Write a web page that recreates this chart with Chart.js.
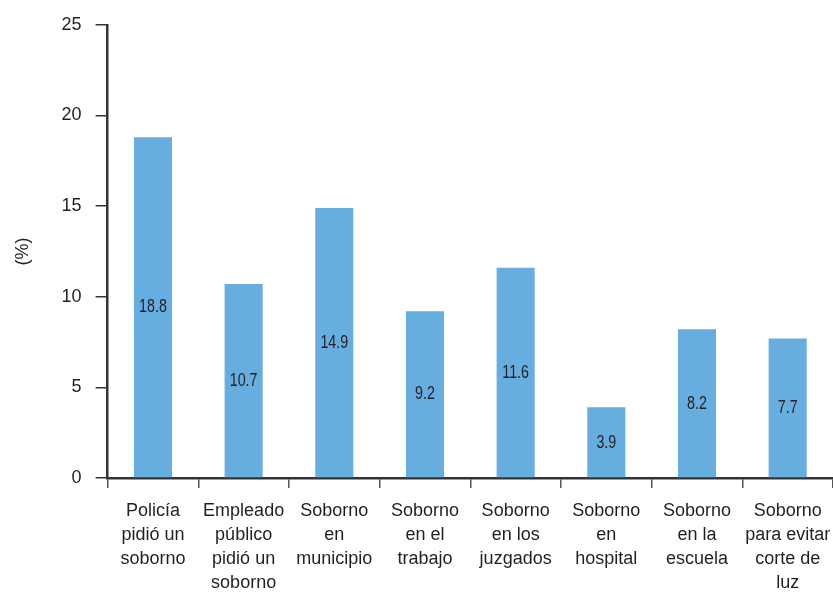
<!DOCTYPE html>
<html>
<head>
<meta charset="utf-8">
<script src="https://cdn.jsdelivr.net/npm/chart.js@4"></script>
<style>
  html, body { margin: 0; padding: 0; background: #fff; }
  #wrap { width: 833px; height: 595px; position: relative; }
</style>
</head>
<body>
<div id="wrap"><canvas id="bribeChart"></canvas></div>
<script>
'use strict';

// ---- Data ----
const categories = [
  ['Policía', 'pidió un', 'soborno'],
  ['Empleado', 'público', 'pidió un', 'soborno'],
  ['Soborno', 'en', 'municipio'],
  ['Soborno', 'en el', 'trabajo'],
  ['Soborno', 'en los', 'juzgados'],
  ['Soborno', 'en', 'hospital'],
  ['Soborno', 'en la', 'escuela'],
  ['Soborno', 'para evitar', 'corte de', 'luz'],
];
const values = [18.8, 10.7, 14.9, 9.2, 11.6, 3.9, 8.2, 7.7];
const yTicks = [0, 5, 10, 15, 20, 25];

const TEXT = '#231f20';
const BAR = '#67aee0';
const FONT = '"Liberation Sans", Arial, sans-serif';

// ---- value labels in the middle of each bar (narrow look) ----
const barLabels = {
  id: 'barLabels',
  afterDatasetsDraw(chart) {
    const { ctx } = chart;
    const meta = chart.getDatasetMeta(0);
    ctx.save();
    ctx.font = '19px ' + FONT;
    ctx.fillStyle = TEXT;
    ctx.textAlign = 'center';
    ctx.textBaseline = 'middle';
    meta.data.forEach((bar, i) => {
      const mid = (bar.y + bar.base) / 2;
      ctx.save();
      ctx.translate(bar.x, mid);
      ctx.scale(0.75, 1);
      ctx.fillText(values[i].toFixed(1), 0, 0);
      ctx.restore();
    });
    ctx.restore();
  },
};

new Chart(document.getElementById('bribeChart'), {
  type: 'bar',
  data: {
    labels: categories,
    datasets: [{
      data: values,
      backgroundColor: BAR,
      borderWidth: 0,
      categoryPercentage: 1,
      barPercentage: 0.42,
    }],
  },
  options: {
    responsive: true,
    maintainAspectRatio: false,
    animation: false,
    layout: { padding: { top: 14, right: 0, bottom: 0, left: 12 } },
    plugins: {
      legend: { display: false },
      tooltip: { enabled: false },
    },
    scales: {
      x: {
        offset: true,
        afterFit: axis => { axis.height = 117; axis.paddingRight = 0; },
        grid: { offset: true, drawOnChartArea: false, tickLength: 10, color: '#555', lineWidth: 1.5 },
        border: { color: '#333', width: 2.5 },
        ticks: {
          color: TEXT,
          padding: 11,
          maxRotation: 0,
          autoSkip: false,
          font: { size: 18, family: FONT, lineHeight: 1.33 },
        },
      },
      y: {
        min: 0,
        max: 25,
        afterBuildTicks: axis => { axis.ticks = yTicks.map(v => ({ value: v })); },
        grid: { drawOnChartArea: false, tickLength: 12, color: '#333', lineWidth: 1.5 },
        border: { color: '#333', width: 2.5 },
        ticks: {
          color: TEXT,
          padding: 14,
          font: { size: 18, family: FONT },
        },
        title: {
          display: true,
          text: '(%)',
          color: TEXT,
          padding: { top: 0, bottom: 14 },
          font: { size: 18, family: FONT },
        },
      },
    },
  },
  plugins: [barLabels],
});
</script>
</body>
</html>
